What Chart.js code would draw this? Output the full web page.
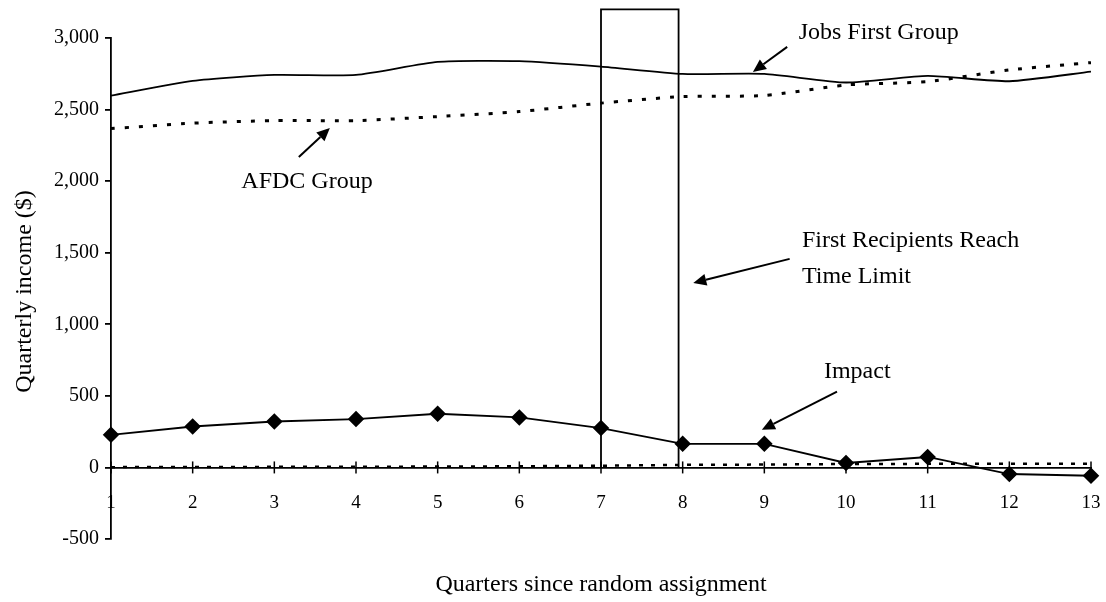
<!DOCTYPE html>
<html>
<head>
<meta charset="utf-8">
<script src="https://cdn.jsdelivr.net/npm/chart.js@4.4.1/dist/chart.umd.min.js"></script>
<style>
    html, body { margin: 0; padding: 0; background: #fff; }
    #wrap { width: 1106px; height: 602px; }
</style>
</head>
<body>
<div id="wrap"><canvas id="incomeChart" width="1106" height="602"></canvas></div>
<script>
// Dados
const quarters = [1, 2, 3, 4, 5, 6, 7, 8, 9, 10, 11, 12, 13];
const jobsFirst = [2598, 2700, 2742, 2742, 2833, 2838, 2800, 2749, 2749, 2689, 2735, 2698, 2765];
const afdc = [2367, 2405, 2423, 2423, 2451, 2486, 2545, 2591, 2598, 2672, 2695, 2777, 2828];
const impact = [228, 286, 321, 338, 375, 349, 275, 165, 165, 31, 73, -46, -58];
const nearZero = [2, 3, 4, 5, 6, 8, 12, 18, 20, 24, 25, 25, 25];
const yTicks = [-500, 0, 500, 1000, 1500, 2000, 2500, 3000];

// Caixa do limite de tempo (quarter 7 a 8)
const boxStart = 7;
const boxEnd = 7.95;
const boxTop = 3200;

const serif = '"Liberation Serif", "Times New Roman", serif';

function toPoints(values) {
    return quarters.map((q, i) => ({ x: q, y: values[i] }));
}

// Anotações em coordenadas de dados
const notes = [
    { lines: ['Jobs First Group'], x: 9.42, y: 3035, align: 'left', arrow: [9.28, 2938, 8.86, 2763] },
    { lines: ['AFDC Group'], x: 3.40, y: 1995, align: 'center', arrow: [3.30, 2168, 3.68, 2371] },
    { lines: ['First Recipients Reach', 'Time Limit'], x: 9.46, y: 1582, align: 'left', arrow: [9.31, 1457, 8.13, 1289] },
    { lines: ['Impact'], x: 9.73, y: 669, align: 'left', arrow: [9.89, 529, 8.97, 263] }
];

function drawArrow(ctx, x1, y1, x2, y2) {
    const ang = Math.atan2(y2 - y1, x2 - x1);
    const head = 13;
    const half = 6;
    const bx = x2 - head * Math.cos(ang);
    const by = y2 - head * Math.sin(ang);
    ctx.beginPath();
    ctx.moveTo(x1, y1);
    ctx.lineTo(bx, by);
    ctx.lineWidth = 2;
    ctx.stroke();
    ctx.beginPath();
    ctx.moveTo(x2, y2);
    ctx.lineTo(bx + half * Math.sin(ang), by - half * Math.cos(ang));
    ctx.lineTo(bx - half * Math.sin(ang), by + half * Math.cos(ang));
    ctx.closePath();
    ctx.fill();
}

const annotationPlugin = {
    id: 'annotations',
    afterDraw(chart) {
        const ctx = chart.ctx;
        const xs = chart.scales.x;
        const ys = chart.scales.y;
        const area = chart.chartArea;
        ctx.save();
        ctx.fillStyle = '#000';
        ctx.strokeStyle = '#000';

        // marcas do eixo x cruzando a linha
        const y0 = ys.getPixelForValue(0);
        ctx.lineWidth = 1.5;
        quarters.forEach(q => {
            const px = xs.getPixelForValue(q);
            ctx.beginPath();
            ctx.moveTo(px, y0 - 6);
            ctx.lineTo(px, y0 + 6);
            ctx.stroke();
        });

        ctx.font = '24px ' + serif;
        ctx.textBaseline = 'middle';
        notes.forEach(n => {
            ctx.textAlign = n.align;
            const px = xs.getPixelForValue(n.x);
            let py = ys.getPixelForValue(n.y);
            n.lines.forEach((line, i) => {
                ctx.fillText(line, px, py + i * 36);
            });
            const a = n.arrow;
            drawArrow(ctx, xs.getPixelForValue(a[0]), ys.getPixelForValue(a[1]),
                xs.getPixelForValue(a[2]), ys.getPixelForValue(a[3]));
        });

        // títulos dos eixos
        ctx.textAlign = 'center';
        ctx.fillText('Quarters since random assignment', (area.left + area.right) / 2, area.bottom + 46);
        ctx.translate(area.left - 86, (area.top + area.bottom) / 2 + 3);
        ctx.rotate(-Math.PI / 2);
        ctx.fillText('Quarterly income ($)', 0, 0);
        ctx.restore();
    }
};

const chart = new Chart(document.getElementById('incomeChart'), {
    type: 'line',
    data: {
        datasets: [
            {
                label: 'Jobs First Group',
                data: toPoints(jobsFirst),
                borderColor: '#000',
                borderWidth: 1.8,
                pointRadius: 0,
                tension: 0.2
            },
            {
                label: 'AFDC Group',
                data: toPoints(afdc),
                borderColor: '#000',
                borderWidth: 3,
                borderDash: [4, 10],
                pointRadius: 0,
                tension: 0.2
            },
            {
                label: 'Impact',
                data: toPoints(impact),
                borderColor: '#000',
                backgroundColor: '#000',
                borderWidth: 1.8,
                pointStyle: 'rectRot',
                pointRadius: 7,
                tension: 0,
                clip: false
            },
            {
                label: 'Near zero',
                data: toPoints(nearZero),
                borderColor: '#000',
                borderWidth: 2.5,
                borderDash: [4, 8],
                pointRadius: 0,
                tension: 0
            },
            {
                label: 'Time limit',
                data: [
                    { x: boxStart, y: 0 },
                    { x: boxStart, y: boxTop },
                    { x: boxEnd, y: boxTop },
                    { x: boxEnd, y: 0 }
                ],
                borderColor: '#000',
                borderWidth: 1.8,
                pointRadius: 0,
                clip: false
            }
        ]
    },
    options: {
        responsive: false,
        animation: false,
        layout: {
            padding: { left: 0, right: 15, top: 38, bottom: 63 }
        },
        plugins: {
            legend: { display: false },
            tooltip: { enabled: false }
        },
        scales: {
            x: {
                type: 'linear',
                position: { y: 0 },
                min: 1,
                max: 13,
                afterFit(scale) {
                    scale.paddingLeft = 0;
                    scale.paddingRight = 0;
                },
                grid: { display: false, drawTicks: false },
                border: { display: true, color: '#000', width: 1.8 },
                ticks: {
                    stepSize: 1,
                    color: '#000',
                    padding: 24,
                    maxRotation: 0,
                    font: { family: serif, size: 19 }
                }
            },
            y: {
                min: -500,
                max: 3000,
                afterFit(scale) {
                    scale.width = 111;
                },
                afterBuildTicks(scale) {
                    scale.ticks = yTicks.map(v => ({ value: v }));
                },
                grid: {
                    drawOnChartArea: false,
                    drawTicks: true,
                    tickLength: 6,
                    color: '#000',
                    lineWidth: 1.8
                },
                border: { display: true, color: '#000', width: 1.8 },
                ticks: {
                    color: '#000',
                    padding: 6,
                    font: { family: serif, size: 20 },
                    callback: function(value) {
                        return value.toLocaleString('en-US');
                    }
                }
            }
        }
    },
    plugins: [annotationPlugin]
});
</script>
</body>
</html>
